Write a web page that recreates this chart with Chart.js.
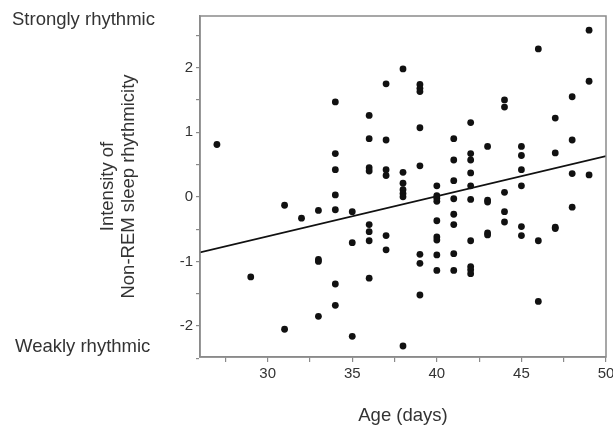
<!DOCTYPE html>
<html>
<head>
<meta charset="utf-8">
<script src="https://cdn.jsdelivr.net/npm/chart.js@4"></script>
<style>
    html, body { margin: 0; padding: 0; background: #fff; }
    #wrap { width: 613px; height: 428px; position: relative; }
</style>
</head>
<body>
<div id="wrap"><canvas id="rhythmChart"></canvas></div>
<script>
const ages = [
    27, 29, 31, 31, 32, 33, 33, 33, 33,
    34, 34, 34, 34, 34, 34, 34, 35, 35, 35,
    36, 36, 36, 36, 36, 36, 36, 36,
    37, 37, 37, 37, 37, 37,
    38, 38, 38, 38, 38, 38, 38,
    39, 39, 39, 39, 39, 39, 39, 39,
    40, 40, 40, 40, 40, 40, 40, 40, 40,
    41, 41, 41, 41, 41, 41, 41, 41,
    42, 42, 42, 42, 42, 42, 42, 42, 42, 42,
    43, 43, 43, 43, 43,
    44, 44, 44, 44, 44,
    45, 45, 45, 45, 45, 45,
    46, 46, 46, 47, 47, 47, 47,
    48, 48, 48, 48, 49, 49, 49,
];
const intensity = [
    0.81, -1.24, -0.13, -2.05, -0.33, -0.21, -0.97, -1.00, -1.85,
    1.47, 0.67, 0.42, 0.03, -0.20, -1.35, -1.68, -0.23, -0.71, -2.16,
    1.26, 0.90, 0.45, 0.40, -0.43, -0.54, -0.68, -1.26,
    1.75, 0.88, 0.42, 0.33, -0.60, -0.82,
    1.98, 0.38, 0.21, 0.11, 0.05, 0.00, -2.31,
    1.74, 1.68, 1.63, 1.07, 0.48, -0.89, -1.03, -1.52,
    0.17, 0.02, -0.02, -0.07, -0.37, -0.62, -0.67, -0.90, -1.14,
    0.90, 0.57, 0.25, -0.03, -0.27, -0.43, -0.88, -1.14,
    1.15, 0.67, 0.57, 0.37, 0.17, -0.04, -0.68, -1.08, -1.13, -1.19,
    0.78, -0.05, -0.08, -0.56, -0.59,
    1.50, 1.39, 0.07, -0.23, -0.39,
    0.78, 0.64, 0.42, 0.17, -0.46, -0.60,
    2.29, -0.68, -1.62, 1.22, 0.68, -0.47, -0.49,
    1.55, 0.88, 0.36, -0.16, 2.58, 1.79, 0.34,
];
const fitAges = [26, 50];
const fitValues = [-0.86, 0.63];
const xTicks = [27.5, 30, 32.5, 35, 37.5, 40, 42.5, 45, 47.5, 50];
const yTicks = [-2.5, -2, -1.5, -1, -0.5, 0, 0.5, 1, 1.5, 2, 2.5];
const endLabels = ['Strongly rhythmic', 'Weakly rhythmic'];

const textColor = '#333';
const axisColor = '#8a8a8a';
const labelFont = { family: 'Liberation Sans, Arial, sans-serif', size: 15 };
const titleFont = { family: 'Liberation Sans, Arial, sans-serif', size: 18.5, lineHeight: 1.15 };

// frame around the plot area and the two end labels on the left
const framePlugin = {
    id: 'frame',
    afterDraw(chart) {
        const { ctx, chartArea: a } = chart;
        ctx.save();
        ctx.strokeStyle = axisColor;
        ctx.lineWidth = 1.5;
        ctx.strokeRect(a.left, a.top, a.right - a.left, a.bottom - a.top);
        ctx.fillStyle = textColor;
        ctx.font = '18.5px "Liberation Sans", Arial, sans-serif';
        ctx.textBaseline = 'middle';
        ctx.textAlign = 'left';
        ctx.fillText(endLabels[0], 12, 20);
        ctx.fillText(endLabels[1], 15, 347);
        ctx.restore();
    },
};

new Chart(document.getElementById('rhythmChart').getContext('2d'), {
    type: 'scatter',
    data: {
        datasets: [{
            label: 'Mice',
            data: ages.map((a, i) => ({ x: a, y: intensity[i] })),
            backgroundColor: '#111',
            borderColor: '#111',
            pointRadius: 3.4,
            pointHoverRadius: 3.4,
            borderWidth: 0,
        }, {
            label: 'Fit',
            data: fitAges.map((a, i) => ({ x: a, y: fitValues[i] })),
            showLine: true,
            borderColor: '#111',
            borderWidth: 1.6,
            pointRadius: 0,
            fill: false,
        }],
    },
    options: {
        responsive: true,
        maintainAspectRatio: false,
        animation: false,
        layout: { padding: { top: 16, right: 7, left: 97, bottom: 0 } },
        plugins: {
            legend: { display: false },
            tooltip: { enabled: false },
        },
        scales: {
            x: {
                type: 'linear',
                min: 26,
                max: 50,
                afterBuildTicks: (axis) => { axis.ticks = xTicks.map(v => ({ value: v })); },
                afterFit: (scale) => { scale.height = 71; scale.paddingRight = 0; },
                border: { color: axisColor, width: 1.5 },
                grid: { display: true, drawOnChartArea: false, drawTicks: true, tickLength: 5, color: axisColor, lineWidth: 1.2 },
                ticks: {
                    color: textColor,
                    font: labelFont,
                    padding: 3,
                    maxRotation: 0,
                    autoSkip: false,
                    callback: (v) => (v % 5 === 0 ? String(v) : ''),
                },
                title: {
                    display: true,
                    text: 'Age (days)',
                    color: textColor,
                    font: titleFont,
                    padding: { top: 0, bottom: 1 },
                },
            },
            y: {
                type: 'linear',
                min: -2.48,
                max: 2.8,
                afterBuildTicks: (axis) => { axis.ticks = yTicks.map(v => ({ value: v })); },
                afterFit: (scale) => { scale.width = 103; },
                border: { color: axisColor, width: 1.5 },
                grid: { display: true, drawOnChartArea: false, drawTicks: true, tickLength: 4, color: axisColor, lineWidth: 1.2 },
                ticks: {
                    color: textColor,
                    font: labelFont,
                    padding: 3,
                    autoSkip: false,
                    callback: (v) => (Number.isInteger(v) ? String(v) : ''),
                },
                title: {
                    display: true,
                    text: ['Intensity of', 'Non-REM sleep rhythmicity'],
                    color: textColor,
                    font: titleFont,
                    padding: { top: 0, bottom: 0 },
                },
            },
        },
    },
    plugins: [framePlugin],
});
</script>
</body>
</html>
